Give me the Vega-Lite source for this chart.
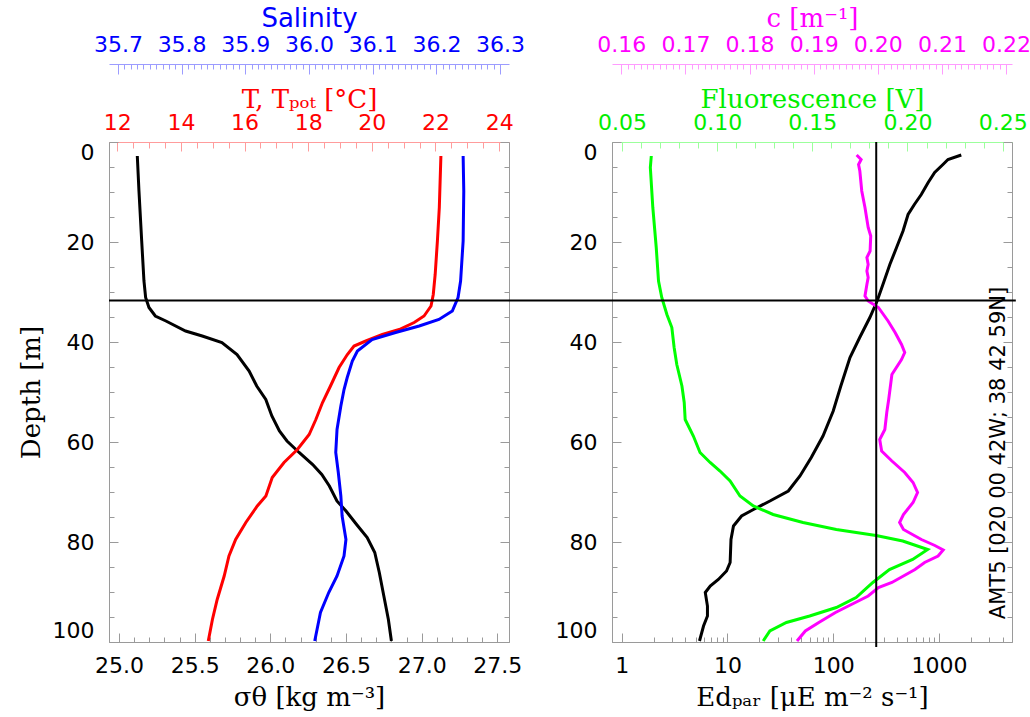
{
  "$schema": "https://vega.github.io/schema/vega-lite/v6.json",
  "padding": {"left": 17, "top": 4, "right": 0, "bottom": 5},
  "background": "white",
  "config": {
    "view": {"stroke": "#9a9a9a", "strokeWidth": 1},
    "axis": {"grid": false, "labelOverlap": false, "labelBound": false, "titleFontWeight": "normal"}
  },
  "datasets": {
    "sigma": [
      {"d": 2.8, "v": 25.121}, {"d": 9.8, "v": 25.132}, {"d": 19.8, "v": 25.15}, {"d": 27.8, "v": 25.165},
      {"d": 31.1, "v": 25.176}, {"d": 33.1, "v": 25.198}, {"d": 34.8, "v": 25.24}, {"d": 35.8, "v": 25.31},
      {"d": 37.8, "v": 25.44}, {"d": 38.8, "v": 25.55}, {"d": 40.1, "v": 25.68}, {"d": 42.5, "v": 25.78},
      {"d": 45.8, "v": 25.86}, {"d": 48.8, "v": 25.91}, {"d": 51.5, "v": 25.97}, {"d": 54.8, "v": 26.01},
      {"d": 57.8, "v": 26.06}, {"d": 59.8, "v": 26.11}, {"d": 62.1, "v": 26.19}, {"d": 64.5, "v": 26.28},
      {"d": 66.5, "v": 26.34}, {"d": 68.8, "v": 26.39}, {"d": 71.8, "v": 26.44}, {"d": 73.8, "v": 26.5},
      {"d": 76.5, "v": 26.57}, {"d": 79.1, "v": 26.64}, {"d": 82.1, "v": 26.69}, {"d": 86.1, "v": 26.72},
      {"d": 90.8, "v": 26.75}, {"d": 95.5, "v": 26.78}, {"d": 99.8, "v": 26.8}
    ],
    "temp": [
      {"d": 2.8, "v": 22.17}, {"d": 13.1, "v": 22.12}, {"d": 19.8, "v": 22.06}, {"d": 26.5, "v": 21.99},
      {"d": 30.5, "v": 21.93}, {"d": 32.8, "v": 21.86}, {"d": 34.8, "v": 21.64}, {"d": 36.1, "v": 21.33},
      {"d": 37.5, "v": 20.86}, {"d": 38.5, "v": 20.33}, {"d": 39.8, "v": 19.81}, {"d": 40.8, "v": 19.44},
      {"d": 42.5, "v": 19.23}, {"d": 45.1, "v": 18.97}, {"d": 48.8, "v": 18.7}, {"d": 52.1, "v": 18.45},
      {"d": 55.5, "v": 18.24}, {"d": 58.5, "v": 18.03}, {"d": 61.5, "v": 17.66}, {"d": 64.1, "v": 17.24},
      {"d": 67.1, "v": 16.87}, {"d": 70.8, "v": 16.67}, {"d": 72.8, "v": 16.4}, {"d": 76.1, "v": 16.04},
      {"d": 79.5, "v": 15.72}, {"d": 82.8, "v": 15.51}, {"d": 86.8, "v": 15.36}, {"d": 91.5, "v": 15.14},
      {"d": 95.5, "v": 14.99}, {"d": 99.8, "v": 14.86}
    ],
    "sal": [
      {"d": 2.8, "v": 36.242}, {"d": 9.8, "v": 36.243}, {"d": 19.8, "v": 36.242}, {"d": 27.8, "v": 36.238},
      {"d": 31.1, "v": 36.234}, {"d": 33.8, "v": 36.225}, {"d": 35.5, "v": 36.204}, {"d": 36.8, "v": 36.173},
      {"d": 38.1, "v": 36.136}, {"d": 39.5, "v": 36.099}, {"d": 41.8, "v": 36.076}, {"d": 43.8, "v": 36.068},
      {"d": 47.1, "v": 36.06}, {"d": 49.5, "v": 36.055}, {"d": 52.8, "v": 36.05}, {"d": 57.5, "v": 36.044},
      {"d": 62.1, "v": 36.042}, {"d": 66.1, "v": 36.046}, {"d": 70.8, "v": 36.05}, {"d": 74.8, "v": 36.052},
      {"d": 79.5, "v": 36.058}, {"d": 82.8, "v": 36.055}, {"d": 86.8, "v": 36.044}, {"d": 90.1, "v": 36.031},
      {"d": 94.1, "v": 36.018}, {"d": 99.8, "v": 36.009}
    ],
    "ed": [
      {"d": 2.6, "v": 1624}, {"d": 3.5, "v": 1216}, {"d": 4.5, "v": 1090}, {"d": 6.1, "v": 910},
      {"d": 8.1, "v": 790}, {"d": 10.5, "v": 680}, {"d": 12.5, "v": 585}, {"d": 14.5, "v": 510},
      {"d": 17.8, "v": 457}, {"d": 21.1, "v": 397}, {"d": 24.5, "v": 343}, {"d": 28.5, "v": 295},
      {"d": 31.8, "v": 260}, {"d": 35.1, "v": 222}, {"d": 39.1, "v": 178}, {"d": 43.1, "v": 144},
      {"d": 48.8, "v": 118}, {"d": 53.8, "v": 100}, {"d": 58.8, "v": 80}, {"d": 63.1, "v": 62},
      {"d": 66.8, "v": 48.5}, {"d": 69.8, "v": 37.6}, {"d": 71.8, "v": 25.2}, {"d": 73.5, "v": 17.6},
      {"d": 74.8, "v": 13.6}, {"d": 76.8, "v": 11.4}, {"d": 79.5, "v": 10.8}, {"d": 84.1, "v": 10.6},
      {"d": 85.8, "v": 9.8}, {"d": 87.5, "v": 8.2}, {"d": 88.8, "v": 6.87}, {"d": 90.1, "v": 6.17},
      {"d": 92.8, "v": 6.47}, {"d": 94.8, "v": 6.47}, {"d": 96.8, "v": 5.94}, {"d": 99.8, "v": 5.44}
    ],
    "fl": [
      {"d": 2.8, "v": 0.0654}, {"d": 5.1, "v": 0.0649}, {"d": 13.1, "v": 0.0662}, {"d": 21.1, "v": 0.068},
      {"d": 27.8, "v": 0.0692}, {"d": 31.1, "v": 0.0709}, {"d": 34.5, "v": 0.0736}, {"d": 37.1, "v": 0.0762},
      {"d": 41.1, "v": 0.0774}, {"d": 44.5, "v": 0.0788}, {"d": 48.8, "v": 0.0815}, {"d": 52.1, "v": 0.0827},
      {"d": 55.5, "v": 0.0832}, {"d": 58.8, "v": 0.0875}, {"d": 62.1, "v": 0.091}, {"d": 64.1, "v": 0.0963},
      {"d": 65.8, "v": 0.1015}, {"d": 67.8, "v": 0.1068}, {"d": 70.8, "v": 0.112}, {"d": 72.8, "v": 0.119},
      {"d": 74.5, "v": 0.1294}, {"d": 76.1, "v": 0.1451}, {"d": 77.5, "v": 0.1626}, {"d": 78.7, "v": 0.1835},
      {"d": 79.8, "v": 0.1975}, {"d": 81.5, "v": 0.2106}, {"d": 83.5, "v": 0.2027}, {"d": 85.5, "v": 0.1905},
      {"d": 88.1, "v": 0.1818}, {"d": 91.1, "v": 0.173}, {"d": 93.1, "v": 0.1626}, {"d": 94.8, "v": 0.1486},
      {"d": 96.1, "v": 0.1364}, {"d": 97.8, "v": 0.1277}, {"d": 99.8, "v": 0.1242}
    ],
    "cc": [
      {"d": 2.6, "v": 0.1967}, {"d": 3.5, "v": 0.1974}, {"d": 4.5, "v": 0.197}, {"d": 5.8, "v": 0.1972},
      {"d": 9.8, "v": 0.1975}, {"d": 13.1, "v": 0.198}, {"d": 17.1, "v": 0.1985}, {"d": 18.8, "v": 0.1989},
      {"d": 21.8, "v": 0.1988}, {"d": 23.1, "v": 0.1983}, {"d": 24.5, "v": 0.1985}, {"d": 25.8, "v": 0.1983},
      {"d": 27.1, "v": 0.1985}, {"d": 28.5, "v": 0.1983}, {"d": 30.8, "v": 0.198}, {"d": 31.8, "v": 0.1985},
      {"d": 33.1, "v": 0.2001}, {"d": 35.8, "v": 0.2016}, {"d": 38.1, "v": 0.2027}, {"d": 40.5, "v": 0.2037},
      {"d": 42.1, "v": 0.2042}, {"d": 43.5, "v": 0.2037}, {"d": 46.5, "v": 0.2022}, {"d": 49.5, "v": 0.2019},
      {"d": 51.5, "v": 0.2017}, {"d": 54.1, "v": 0.2014}, {"d": 57.5, "v": 0.2011}, {"d": 59.5, "v": 0.2003},
      {"d": 61.8, "v": 0.2006}, {"d": 63.8, "v": 0.2022}, {"d": 66.1, "v": 0.2042}, {"d": 68.1, "v": 0.2055},
      {"d": 70.1, "v": 0.2062}, {"d": 72.1, "v": 0.2055}, {"d": 74.5, "v": 0.204}, {"d": 76.1, "v": 0.2034},
      {"d": 77.5, "v": 0.204}, {"d": 79.5, "v": 0.2068}, {"d": 80.7, "v": 0.2089}, {"d": 81.6, "v": 0.2102},
      {"d": 82.8, "v": 0.2094}, {"d": 84.1, "v": 0.2073}, {"d": 85.5, "v": 0.2058}, {"d": 88.1, "v": 0.2022},
      {"d": 89.1, "v": 0.2001}, {"d": 90.8, "v": 0.1985}, {"d": 92.1, "v": 0.1965}, {"d": 94.1, "v": 0.1934},
      {"d": 96.1, "v": 0.1908}, {"d": 97.8, "v": 0.1887}, {"d": 99.8, "v": 0.1874}
    ],
    "hline": [{"d": 31.7}],
    "hline2": [{"d": 31.7, "e0": 0.0859, "e1": 5325}],
    "vline": [{"e": 255, "d0": 0, "d1": 101}],
    "station": [{"e": 3680, "d": 62.2, "t": "AMT5 [020 00 42W; 38 42 59N]"}]
  },
  "spacing": 103,
  "bounds": "flush",
  "hconcat": [
    {
      "width": 400,
      "height": 500,
      "layer": [
        {
          "data": {"name": "sigma"},
          "mark": {"type": "line", "color": "#000000", "strokeWidth": 3},
          "encoding": {
            "x": {"field": "v", "type": "quantitative",
              "scale": {"domain": [24.934, 27.577], "nice": false, "zero": false},
              "axis": {"orient": "bottom",
                "values": [25, 25.1, 25.2, 25.3, 25.4, 25.5, 25.6, 25.7, 25.8, 25.9, 26, 26.1, 26.2, 26.3, 26.4, 26.5, 26.6, 26.7, 26.8, 26.9, 27, 27.1, 27.2, 27.3, 27.4, 27.5],
                "labelExpr": "abs(datum.value*2-round(datum.value*2))<0.01 ? format(datum.value,'.1f') : ''",
                "tickSize": {"condition": {"test": "abs(datum.value*2-round(datum.value*2))<0.01", "value": -9}, "value": -5},
                "tickColor": "#9a9a9a", "domainColor": "#9a9a9a",
                "labelPadding": 22, "labelFont": "DejaVu Sans", "labelFontSize": 22, "labelColor": "#000000",
                "title": "σθ [kg m⁻³]", "titleFont": "DejaVu Serif", "titleFontSize": 26, "titleColor": "#000000", "titlePadding": 4}},
            "y": {"field": "d", "type": "quantitative",
              "scale": {"domain": [0, 100], "reverse": true, "nice": false, "zero": false},
              "axis": {"orient": "left",
                "values": [0, 5, 10, 15, 20, 25, 30, 35, 40, 45, 50, 55, 60, 65, 70, 75, 80, 85, 90, 95, 100],
                "labelExpr": "datum.value % 20 == 0 ? datum.label : ''",
                "tickSize": {"condition": {"test": "datum.value % 20 == 0", "value": -9}, "value": -5},
                "tickColor": "#9a9a9a", "domainColor": "#9a9a9a", "labelFlush": true,
                "labelPadding": 24, "labelFont": "DejaVu Sans", "labelFontSize": 22, "labelColor": "#000000",
                "title": "Depth [m]", "titleFont": "DejaVu Serif", "titleFontSize": 26, "titleColor": "#000000", "titlePadding": 8}},
            "order": {"field": "d", "type": "quantitative"}
          }
        },
        {
          "data": {"name": "temp"},
          "mark": {"type": "line", "color": "#ff0000", "strokeWidth": 3},
          "encoding": {
            "x": {"field": "v", "type": "quantitative",
              "scale": {"domain": [11.74, 24.31], "nice": false, "zero": false},
              "axis": {"orient": "top",
                "values": [12, 12.5, 13, 13.5, 14, 14.5, 15, 15.5, 16, 16.5, 17, 17.5, 18, 18.5, 19, 19.5, 20, 20.5, 21, 21.5, 22, 22.5, 23, 23.5, 24],
                "labelExpr": "abs(datum.value/2-round(datum.value/2))<0.01 ? format(datum.value,'d') : ''",
                "tickSize": {"condition": {"test": "abs(datum.value/2-round(datum.value/2))<0.01", "value": -9}, "value": -6},
                "tickColor": "#ff9c9c", "domainColor": "#ff9c9c",
                "labelPadding": 17, "labelFont": "DejaVu Sans", "labelFontSize": 22, "labelColor": "#ff0000",
                "title": "T, Tₚₒₜ [°C]", "titleFont": "DejaVu Serif", "titleFontSize": 26, "titleColor": "#ff0000", "titlePadding": -4}},
            "y": {"field": "d", "type": "quantitative",
              "scale": {"domain": [0, 100], "reverse": true, "nice": false, "zero": false},
              "axis": {"orient": "right",
                "values": [0, 5, 10, 15, 20, 25, 30, 35, 40, 45, 50, 55, 60, 65, 70, 75, 80, 85, 90, 95, 100],
                "labels": false, "domain": false, "title": null,
                "tickSize": {"condition": {"test": "datum.value % 20 == 0", "value": -9}, "value": -5},
                "tickColor": "#9a9a9a"}},
            "order": {"field": "d", "type": "quantitative"}
          }
        },
        {
          "data": {"name": "sal"},
          "mark": {"type": "line", "color": "#0000ff", "strokeWidth": 3},
          "encoding": {
            "x": {"field": "v", "type": "quantitative",
              "scale": {"domain": [35.686, 36.314], "nice": false, "zero": false},
              "axis": {"orient": "top", "offset": 78,
                "values": [35.7, 35.71, 35.72, 35.73, 35.74, 35.75, 35.76, 35.77, 35.78, 35.79, 35.8, 35.81, 35.82, 35.83, 35.84, 35.85, 35.86, 35.87, 35.88, 35.89, 35.9, 35.91, 35.92, 35.93, 35.94, 35.95, 35.96, 35.97, 35.98, 35.99, 36, 36.01, 36.02, 36.03, 36.04, 36.05, 36.06, 36.07, 36.08, 36.09, 36.1, 36.11, 36.12, 36.13, 36.14, 36.15, 36.16, 36.17, 36.18, 36.19, 36.2, 36.21, 36.22, 36.23, 36.24, 36.25, 36.26, 36.27, 36.28, 36.29, 36.3],
                "labelExpr": "abs(datum.value*10-round(datum.value*10))<0.01 ? format(datum.value,'.1f') : ''",
                "tickSize": {"condition": {"test": "abs(datum.value*10-round(datum.value*10))<0.01", "value": -10}, "value": -5},
                "tickColor": "#9c9cff", "domainColor": "#9c9cff",
                "labelPadding": 18, "labelFont": "DejaVu Sans", "labelFontSize": 22, "labelColor": "#0000ff",
                "title": "Salinity", "titleFont": "DejaVu Sans", "titleFontSize": 26, "titleColor": "#0000ff", "titlePadding": -3}},
            "y": {"field": "d", "type": "quantitative",
              "scale": {"domain": [0, 100], "reverse": true, "nice": false, "zero": false}, "axis": null},
            "order": {"field": "d", "type": "quantitative"}
          }
        },
        {
          "data": {"name": "hline"},
          "mark": {"type": "rule", "color": "#000000", "strokeWidth": 2},
          "encoding": {
            "y": {"field": "d", "type": "quantitative",
              "scale": {"domain": [0, 100], "reverse": true, "nice": false, "zero": false}, "axis": null}
          }
        }
      ],
      "resolve": {"scale": {"x": "independent"}, "axis": {"y": "independent"}}
    },
    {
      "width": 400,
      "height": 500,
      "layer": [
        {
          "data": {"name": "ed"},
          "mark": {"type": "line", "color": "#000000", "strokeWidth": 3},
          "encoding": {
            "x": {"field": "v", "type": "quantitative",
              "scale": {"type": "log", "domain": [0.81, 4900], "nice": false, "zero": false},
              "axis": {"orient": "bottom",
                "values": [1, 2, 3, 4, 5, 6, 7, 8, 9, 10, 20, 30, 40, 50, 60, 70, 80, 90, 100, 200, 300, 400, 500, 600, 700, 800, 900, 1000, 2000, 3000, 4000],
                "labelExpr": "abs(log(datum.value)/LN10-round(log(datum.value)/LN10))<0.001 ? format(datum.value,'d') : ''",
                "tickSize": {"condition": {"test": "abs(log(datum.value)/LN10-round(log(datum.value)/LN10))<0.001", "value": -9}, "value": -5},
                "tickColor": "#9a9a9a", "domainColor": "#9a9a9a",
                "labelPadding": 22, "labelFont": "DejaVu Sans", "labelFontSize": 22, "labelColor": "#000000",
                "title": "Edₚₐᵣ [μE m⁻² s⁻¹]", "titleFont": "DejaVu Serif", "titleFontSize": 26, "titleColor": "#000000", "titlePadding": 4}},
            "y": {"field": "d", "type": "quantitative",
              "scale": {"domain": [0, 100], "reverse": true, "nice": false, "zero": false},
              "axis": {"orient": "left",
                "values": [0, 5, 10, 15, 20, 25, 30, 35, 40, 45, 50, 55, 60, 65, 70, 75, 80, 85, 90, 95, 100],
                "labelExpr": "datum.value % 20 == 0 ? datum.label : ''",
                "tickSize": {"condition": {"test": "datum.value % 20 == 0", "value": -9}, "value": -5},
                "tickColor": "#9a9a9a", "domainColor": "#9a9a9a", "labelFlush": true,
                "labelPadding": 24, "labelFont": "DejaVu Sans", "labelFontSize": 22, "labelColor": "#000000",
                "title": null}},
            "order": {"field": "d", "type": "quantitative"}
          }
        },
        {
          "data": {"name": "fl"},
          "mark": {"type": "line", "color": "#00ff00", "strokeWidth": 3},
          "encoding": {
            "x": {"field": "v", "type": "quantitative",
              "scale": {"domain": [0.04476, 0.2549], "nice": false, "zero": false},
              "axis": {"orient": "top",
                "values": [0.05, 0.06, 0.07, 0.08, 0.09, 0.1, 0.11, 0.12, 0.13, 0.14, 0.15, 0.16, 0.17, 0.18, 0.19, 0.2, 0.21, 0.22, 0.23, 0.24, 0.25],
                "labelExpr": "abs(datum.value*20-round(datum.value*20))<0.01 ? format(datum.value,'.2f') : ''",
                "tickSize": {"condition": {"test": "abs(datum.value*20-round(datum.value*20))<0.01", "value": -9}, "value": -6},
                "tickColor": "#9cff9c", "domainColor": "#9cff9c",
                "labelPadding": 17, "labelFont": "DejaVu Sans", "labelFontSize": 22, "labelColor": "#00ee00",
                "title": "Fluorescence [V]", "titleFont": "DejaVu Serif", "titleFontSize": 26, "titleColor": "#00ee00", "titlePadding": -4}},
            "y": {"field": "d", "type": "quantitative",
              "scale": {"domain": [0, 100], "reverse": true, "nice": false, "zero": false},
              "axis": {"orient": "right",
                "values": [0, 5, 10, 15, 20, 25, 30, 35, 40, 45, 50, 55, 60, 65, 70, 75, 80, 85, 90, 95, 100],
                "labels": false, "domain": false, "title": null,
                "tickSize": {"condition": {"test": "datum.value % 20 == 0", "value": -9}, "value": -5},
                "tickColor": "#9a9a9a"}},
            "order": {"field": "d", "type": "quantitative"}
          }
        },
        {
          "data": {"name": "cc"},
          "mark": {"type": "line", "color": "#ff00ff", "strokeWidth": 3},
          "encoding": {
            "x": {"field": "v", "type": "quantitative",
              "scale": {"domain": [0.15855, 0.22093], "nice": false, "zero": false},
              "axis": {"orient": "top", "offset": 78,
                "values": [0.16, 0.161, 0.162, 0.163, 0.164, 0.165, 0.166, 0.167, 0.168, 0.169, 0.17, 0.171, 0.172, 0.173, 0.174, 0.175, 0.176, 0.177, 0.178, 0.179, 0.18, 0.181, 0.182, 0.183, 0.184, 0.185, 0.186, 0.187, 0.188, 0.189, 0.19, 0.191, 0.192, 0.193, 0.194, 0.195, 0.196, 0.197, 0.198, 0.199, 0.2, 0.201, 0.202, 0.203, 0.204, 0.205, 0.206, 0.207, 0.208, 0.209, 0.21, 0.211, 0.212, 0.213, 0.214, 0.215, 0.216, 0.217, 0.218, 0.219, 0.22],
                "labelExpr": "abs(datum.value*100-round(datum.value*100))<0.01 ? format(datum.value,'.2f') : ''",
                "tickSize": {"condition": {"test": "abs(datum.value*100-round(datum.value*100))<0.01", "value": -10}, "value": -5},
                "tickColor": "#ff9cff", "domainColor": "#ff9cff",
                "labelPadding": 18, "labelFont": "DejaVu Sans", "labelFontSize": 22, "labelColor": "#ff00ff",
                "title": "c [m⁻¹]", "titleFont": "DejaVu Serif", "titleFontSize": 26, "titleColor": "#ff00ff", "titlePadding": -3}},
            "y": {"field": "d", "type": "quantitative",
              "scale": {"domain": [0, 100], "reverse": true, "nice": false, "zero": false}, "axis": null},
            "order": {"field": "d", "type": "quantitative"}
          }
        },
        {
          "data": {"name": "vline"},
          "mark": {"type": "rule", "color": "#000000", "strokeWidth": 2},
          "encoding": {
            "x": {"field": "e", "type": "quantitative",
              "scale": {"type": "log", "domain": [0.81, 4900], "nice": false, "zero": false}, "axis": null},
            "y": {"field": "d0", "type": "quantitative",
              "scale": {"domain": [0, 100], "reverse": true, "nice": false, "zero": false}, "axis": null},
            "y2": {"field": "d1"}
          }
        },
        {
          "data": {"name": "hline2"},
          "mark": {"type": "rule", "color": "#000000", "strokeWidth": 2},
          "encoding": {
            "x": {"field": "e0", "type": "quantitative",
              "scale": {"type": "log", "domain": [0.81, 4900], "nice": false, "zero": false}, "axis": null},
            "x2": {"field": "e1"},
            "y": {"field": "d", "type": "quantitative",
              "scale": {"domain": [0, 100], "reverse": true, "nice": false, "zero": false}, "axis": null}
          }
        },
        {
          "data": {"name": "station"},
          "mark": {"type": "text", "angle": 270, "align": "center", "baseline": "middle", "font": "DejaVu Sans", "fontSize": 21, "color": "#000000"},
          "encoding": {
            "x": {"field": "e", "type": "quantitative",
              "scale": {"type": "log", "domain": [0.81, 4900], "nice": false, "zero": false}, "axis": null},
            "y": {"field": "d", "type": "quantitative",
              "scale": {"domain": [0, 100], "reverse": true, "nice": false, "zero": false}, "axis": null},
            "text": {"field": "t"}
          }
        }
      ],
      "resolve": {"scale": {"x": "independent"}, "axis": {"y": "independent"}}
    }
  ]
}
